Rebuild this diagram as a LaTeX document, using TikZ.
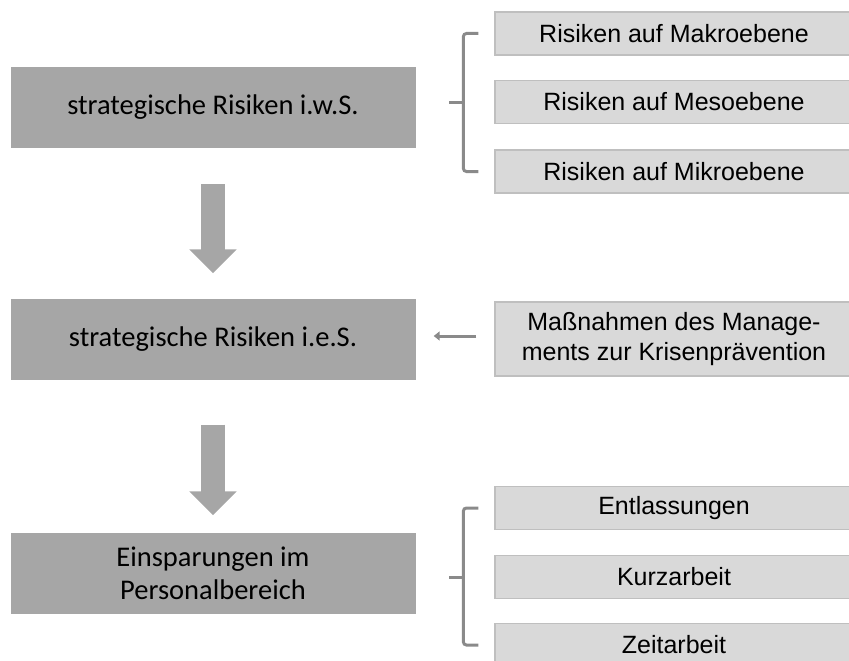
\documentclass[tikz,border=0pt]{standalone}
\usepackage{fontspec}
\setmainfont{Liberation Sans}
\newfontfamily\calfont{Carlito}
\usetikzlibrary{arrows.meta, positioning, calc}
\definecolor{darkbox}{HTML}{A6A6A6}
\definecolor{lightbox}{HTML}{D9D9D9}
\definecolor{lightedge}{HTML}{BFBFBF}
\definecolor{linegray}{HTML}{8A8A8A}

\begin{document}
\begin{tikzpicture}[
    x=1pt, y=-1pt,
    mainbox/.style={fill=darkbox, minimum width=405pt, minimum height=81pt, inner sep=0pt,
        align=center, font=\calfont\fontsize{28.5}{33}\selectfont},
    sidebox/.style={fill=lightbox, draw=lightedge, line width=1.2pt, minimum width=358pt,
        minimum height=43pt, inner sep=0pt, align=center, font=\fontsize{25}{30}\selectfont},
    bigarrow/.style={draw=darkbox, line width=24pt, -{Triangle[length=24pt, width=46pt]}, darkbox},
    smallarrow/.style={draw=linegray, line width=3pt, -{Triangle[length=6pt, width=9pt]}},
    bracket/.style={draw=linegray, line width=3pt, rounded corners=3pt},
]
\useasboundingbox (0,0) rectangle (849,661);
% ----- left column
\node[mainbox] (iws) at (213,107.5) {strategische Risiken i.w.S.};
\node[mainbox] (ies) at (213,339) {strategische Risiken i.e.S.};
\node[mainbox] (pers) at (213,573) {Einsparungen im\\Personalbereich};
\draw[bigarrow] ([yshift=-36pt]iws.south) -- ([yshift=25pt]ies.north);
\draw[bigarrow] ([yshift=-45pt]ies.south) -- ([yshift=17pt]pers.north);
% ----- right column, upper group
\node[sidebox] (makro) at (674,33.5) {Risiken auf Makroebene};
\node[sidebox] (meso) at (674,102) {Risiken auf Mesoebene};
\node[sidebox] (mikro) at (674,171.5) {Risiken auf Mikroebene};
\draw[bracket] ([xshift=-16pt]makro.west) -- ++(-15,0) |- ([xshift=-16pt]mikro.west);
\draw[bracket, rounded corners=0pt] ([xshift=-31pt]meso.west) -- ++(-14,0);
% ----- right column, measures
\node[sidebox, minimum height=74pt] (mass) at (674,339) {Maßnahmen des Manage-\\ments zur Krisenprävention};
\draw[smallarrow] ([xshift=-18pt,yshift=3pt]mass.west) -- ([xshift=18pt,yshift=3pt]ies.east);
% ----- right column, lower group
\node[sidebox] (entl) at (674,508) {Entlassungen};
\node[sidebox] (kurz) at (674,577) {Kurzarbeit};
\node[sidebox] (zeit) at (674,645) {Zeitarbeit};
\draw[bracket] ([xshift=-16pt]entl.west) -- ++(-15,0) |- ([xshift=-16pt]zeit.west);
\draw[bracket, rounded corners=0pt] ([xshift=-31pt]kurz.west) -- ++(-14,0);
\end{tikzpicture}
\end{document}
